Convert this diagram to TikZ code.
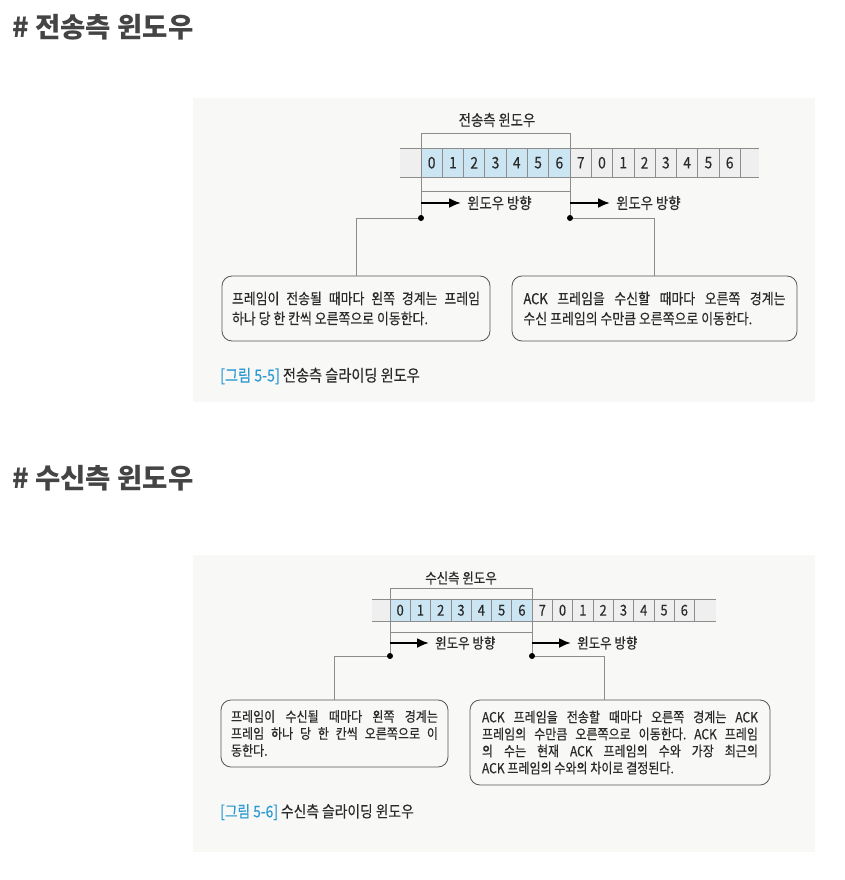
\documentclass[tikz,border=0pt]{standalone}
\usepackage{fontspec}
\setmainfont{Noto Sans CJK KR}
\newfontfamily\kr[FakeStretch=0.86,FakeBold=0.3]{Noto Sans CJK KR}
\newfontfamily\krhead{Noto Sans CJK KR}
\usetikzlibrary{arrows.meta}
\definecolor{panelbg}{HTML}{F8F8F7}
\definecolor{stripgray}{HTML}{EFEFEF}
\definecolor{cellblue}{HTML}{CBE5F2}
\definecolor{linegray}{HTML}{8C8C8C}
\definecolor{textcol}{HTML}{2A2A2A}
\definecolor{capblue}{HTML}{2B9AD2}
\definecolor{headcol}{HTML}{444444}
\definecolor{boxline}{HTML}{555555}
\frenchspacing
\tikzset{
  heading/.style={anchor=west, inner sep=0, text=headcol, font=\krhead\bfseries\fontsize{27.5}{31}\selectfont},
  panel/.style={fill=panelbg, draw=none},
  gline/.style={draw=linegray, line width=0.8pt},
  conn/.style={draw=linegray, line width=0.8pt},
  numA/.style={inner sep=0, text=textcol, font=\kr\fontsize{16}{18}\selectfont},
  numB/.style={inner sep=0, text=textcol, font=\kr\fontsize{15}{17}\selectfont},
  dirarrow/.style={draw=black, line width=2.2pt, -{Latex[length=12pt,width=10pt]}},
  dot/.style={fill=black},
  boxA/.style={draw=boxline, line width=0.8pt, rounded corners=10pt, align=left, text=textcol, font=\kr\fontsize{15}{20}\selectfont},
  boxB/.style={draw=boxline, line width=0.8pt, rounded corners=10pt, align=left, text=textcol, font=\kr\fontsize{14}{17}\selectfont},
  labA/.style={inner sep=0, text=textcol, font=\kr\fontsize{15.5}{17}\selectfont},
  labB/.style={inner sep=0, text=textcol, font=\kr\fontsize{14.5}{16}\selectfont},
  capA/.style={anchor=west, inner sep=0, text=textcol, font=\kr\fontsize{16.5}{18}\selectfont},
  capB/.style={anchor=west, inner sep=0, text=textcol, font=\kr\fontsize{16}{18}\selectfont},
}
\begin{document}
\begin{tikzpicture}[x=1pt,y=-1pt]
\useasboundingbox (0,0) rectangle (844,880);
\fill[white] (0,0) rectangle (844,880);

% ---------------- headings ----------------
\node[heading] (h1) at (12,27) {\# 전송측 윈도우};
\node[heading] (h2) at (12,478) {\# 수신측 윈도우};

% ================= panel 1 =================
\fill[panel] (193,98) rectangle (815,402);
\fill[stripgray] (400,148.5) rectangle (759,177);
\fill[cellblue] (421,148.5) rectangle (570,177);
\draw[gline] (400,148.5) -- (759,148.5);
\draw[gline] (400,177) -- (759,177);
\foreach \i in {1,...,15} \draw[gline] ({421+\i*21.29},148.5) -- ({421+\i*21.29},177);
\foreach \n [count=\i from 0] in {0,1,2,3,4,5,6,7,0,1,2,3,4,5,6}
  \node[numA] (pa\i) at ({421+(\i+0.5)*21.29},162.75) {\n};
\coordinate (A1) at (421,133);
\coordinate (A2) at (570,133);
\coordinate (A1b) at (421,191);
\coordinate (A2b) at (570,191);
\coordinate (LA) at (421,218);
\coordinate (RA) at (570,218);
\draw[gline] (LA) -- (A1) -- (A2) -- (RA);
\draw[gline] (A1b) -- (A2b);
\node[labA] (ta) at (497,120) {전송측 윈도우};
\coordinate (aa1) at (421,203);
\coordinate (aa2) at (461,203);
\coordinate (ab1) at (570,203);
\coordinate (ab2) at (610,203);
\draw[dirarrow] (aa1) -- (aa2);
\draw[dirarrow] (ab1) -- (ab2);
\node[labA, anchor=west] (da1) at (467,203) {윈도우 방향};
\node[labA, anchor=west] (da2) at (616,203) {윈도우 방향};
\node[boxA, minimum width=268pt, minimum height=65pt] (bA1) at (356,308.5)
  {\makebox[248pt][s]{프레임이 전송될 때마다 왼쪽 경계는 프레임}\\하나 당 한 칸씩 오른쪽으로 이동한다.};
\node[boxA, minimum width=285pt, minimum height=65pt] (bA2) at (654.5,308.5)
  {\makebox[262pt][s]{ACK 프레임을 수신할 때마다 오른쪽 경계는}\\수신 프레임의 수만큼 오른쪽으로 이동한다.};
\draw[conn] (LA) -| (bA1.north);
\draw[conn] (RA) -| (bA2.north);
\fill[dot] (LA) circle[radius=3pt];
\fill[dot] (RA) circle[radius=3pt];
\node[capA] (capa) at (220,376) {\textcolor{capblue}{[그림 5-5]} 전송측 슬라이딩 윈도우};

% ================= panel 2 =================
\fill[panel] (193,555) rectangle (815,852);
\fill[stripgray] (372,599) rectangle (716,621.5);
\fill[cellblue] (390,599) rectangle (532,621.5);
\draw[gline] (372,599) -- (716,599);
\draw[gline] (372,621.5) -- (716,621.5);
\foreach \i in {1,...,15} \draw[gline] ({390+\i*20.3},599) -- ({390+\i*20.3},621.5);
\foreach \n [count=\i from 0] in {0,1,2,3,4,5,6,7,0,1,2,3,4,5,6}
  \node[numB] (pb\i) at ({390+(\i+0.5)*20.3},610.25) {\n};
\coordinate (B1) at (390,588);
\coordinate (B2) at (532,588);
\coordinate (B1b) at (390,632);
\coordinate (B2b) at (532,632);
\coordinate (LB) at (390,656);
\coordinate (RB) at (532,656);
\draw[gline] (LB) -- (B1) -- (B2) -- (RB);
\draw[gline] (B1b) -- (B2b);
\node[labB] (tb) at (461,578) {수신측 윈도우};
\coordinate (ba1) at (390,643);
\coordinate (ba2) at (429,643);
\coordinate (bb1) at (532,643);
\coordinate (bb2) at (571,643);
\draw[dirarrow] (ba1) -- (ba2);
\draw[dirarrow] (bb1) -- (bb2);
\node[labB, anchor=west] (db1) at (435,643) {윈도우 방향};
\node[labB, anchor=west] (db2) at (577,643) {윈도우 방향};
\node[boxB, minimum width=227pt, minimum height=67pt] (bB1) at (334.5,733.5)
  {\makebox[207pt][s]{프레임이 수신될 때마다 왼쪽 경계는}\\\makebox[207pt][s]{프레임 하나 당 한 칸씩 오른쪽으로 이}\\동한다.};
\node[boxB, minimum width=300pt, minimum height=85pt] (bB2) at (620,742.5)
  {\makebox[276pt][s]{ACK 프레임을 전송할 때마다 오른쪽 경계는 ACK}\\\makebox[276pt][s]{프레임의 수만큼 오른쪽으로 이동한다. ACK 프레임}\\\makebox[276pt][s]{의 수는 현재 ACK 프레임의 수와 가장 최근의}\\ACK 프레임의 수와의 차이로 결정된다.};
\coordinate (RBc) at (604,700);
\draw[conn] (LB) -| (bB1.north);
\draw[conn] (RB) -| (RBc);
\fill[dot] (LB) circle[radius=3pt];
\fill[dot] (RB) circle[radius=3pt];
\node[capB] (capb) at (220,812) {\textcolor{capblue}{[그림 5-6]} 수신측 슬라이딩 윈도우};
\end{tikzpicture}
\end{document}
